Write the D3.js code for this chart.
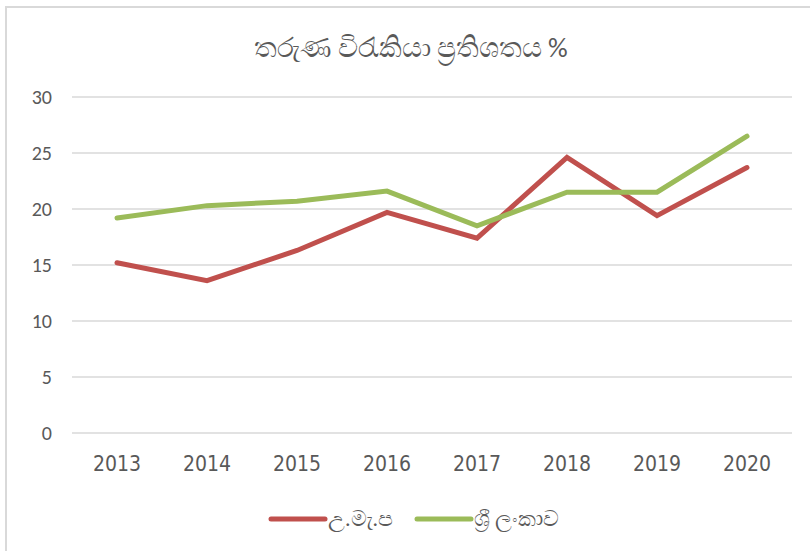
<!DOCTYPE html>
<html>
<head>
<meta charset="utf-8">
<script src="https://cdn.jsdelivr.net/npm/d3@7"></script>
<style>
  body { margin: 0; background: #fff; }
  text { font-family: Calibri, Carlito, Lato, "Noto Sans", sans-serif; }
</style>
</head>
<body>
<div id="chart"></div>
<script>
const years = ["2013", "2014", "2015", "2016", "2017", "2018", "2019", "2020"];
const westernProvince = [15.2, 13.6, 16.3, 19.7, 17.4, 24.6, 19.4, 23.7];
const sriLanka = [19.2, 20.3, 20.7, 21.6, 18.5, 21.5, 21.5, 26.5];
const yTicks = [0, 5, 10, 15, 20, 25, 30];
const seriesNames = ["උ.මැ.ප", "ශ්‍රී ලංකාව"];
const seriesColors = ["#c0504d", "#9bbb59"];
const title = "තරුණ විරැකියා ප්‍රතිශතය %";

const width = 810, height = 551;
const margin = { top: 97, right: 18, bottom: 118, left: 72 };
const innerW = width - margin.left - margin.right;
const innerH = height - margin.top - margin.bottom;

const svg = d3.select("#chart").append("svg")
    .attr("width", width).attr("height", height);

// outer frame
svg.append("rect").attr("x", 6).attr("y", 7)
    .attr("width", width + 10).attr("height", height + 10)
    .attr("fill", "none").attr("stroke", "#d9d9d9").attr("stroke-width", 2);

svg.append("text").attr("x", 411).attr("y", 57)
    .attr("text-anchor", "middle").attr("fill", "#595959")
    .style("font-size", "27.5px").text(title);

const g = svg.append("g").attr("transform", `translate(${margin.left},${margin.top})`);

const x = d3.scaleBand().domain(years).range([0, innerW]);
const y = d3.scaleLinear().domain([0, 30]).range([innerH, 0]);

// gridlines
g.append("g").selectAll("line").data(yTicks).join("line")
    .attr("x1", 0).attr("x2", innerW)
    .attr("y1", d => y(d)).attr("y2", d => y(d))
    .attr("stroke", "#d9d9d9").attr("stroke-width", 1.5);

const yAxis = g.append("g").call(d3.axisLeft(y).tickValues(yTicks).tickSize(0).tickPadding(20));
yAxis.select(".domain").remove();
yAxis.selectAll("text").attr("fill", "#595959").style("font-size", "20px");

const xAxis = g.append("g").attr("transform", `translate(0,${innerH})`)
    .call(d3.axisBottom(x).tickSize(0).tickPadding(23));
xAxis.select(".domain").remove();
xAxis.selectAll("text").attr("fill", "#595959").style("font-size", "21px")
    .style("font-family", "'Liberation Sans Narrow', 'DejaVu Sans Condensed', sans-serif");

const line = d3.line().x((d, i) => x(years[i]) + x.bandwidth() / 2).y(d => y(d));

[westernProvince, sriLanka].forEach((s, i) => {
  g.append("path").datum(s)
      .attr("fill", "none").attr("stroke", seriesColors[i])
      .attr("stroke-width", 5).attr("stroke-linejoin", "miter")
      .attr("stroke-linecap", "round").attr("d", line);
});

// legend
const legend = svg.append("g").attr("transform", "translate(271,519)");
const legendX = [0, 146];
seriesNames.forEach((name, i) => {
  const lg = legend.append("g").attr("transform", `translate(${legendX[i]},0)`);
  lg.append("line").attr("x1", 0).attr("x2", 54).attr("y1", 0).attr("y2", 0)
      .attr("stroke", seriesColors[i]).attr("stroke-width", 5).attr("stroke-linecap", "round");
  lg.append("text").attr("x", 57).attr("y", 7).attr("fill", "#595959")
      .style("font-size", "22px").text(name);
});
</script>
</body>
</html>
